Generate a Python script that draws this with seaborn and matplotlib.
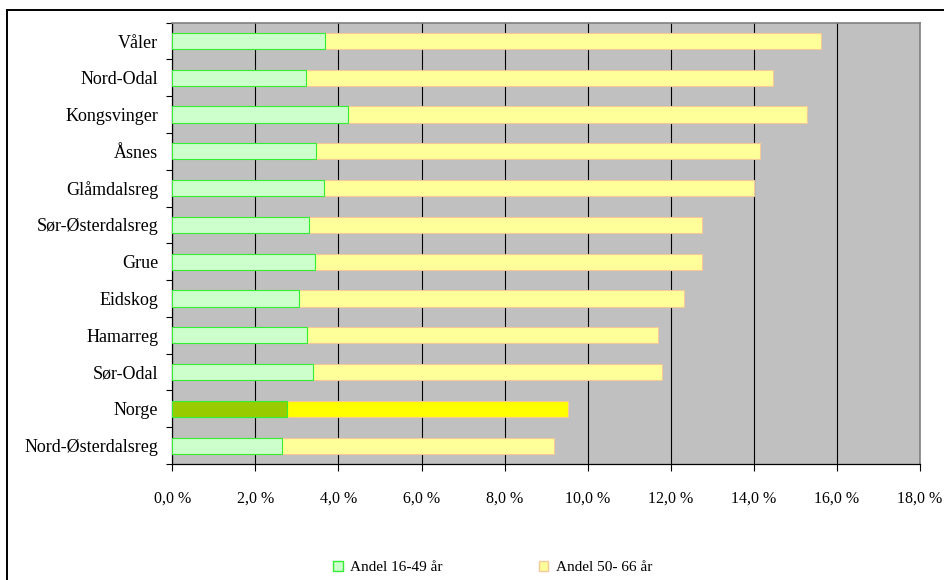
import seaborn as sns
import pandas as pd
import matplotlib.pyplot as plt
from matplotlib.patches import Patch, Rectangle
from matplotlib.ticker import FixedLocator, FuncFormatter

kommuner = ['Våler', 'Nord-Odal', 'Kongsvinger', 'Åsnes', 'Glåmdalsreg',
            'Sør-Østerdalsreg', 'Grue', 'Eidskog', 'Hamarreg', 'Sør-Odal',
            'Norge', 'Nord-Østerdalsreg']
andel_16_49 = [3.68, 3.21, 4.24, 3.47, 3.65, 3.29, 3.44, 3.06, 3.24, 3.38, 2.76, 2.64]
andel_50_66 = [11.93, 11.25, 11.04, 10.68, 10.35, 9.47, 9.32, 9.27, 8.45, 8.40, 6.77, 6.55]
x_ticks = [0, 2, 4, 6, 8, 10, 12, 14, 16, 18]


def make_plot(df):
    plt.rcParams['font.family'] = ['Liberation Serif', 'DejaVu Serif']
    fig = plt.figure(figsize=(9.44, 5.80), dpi=100)
    ax = fig.add_axes([0.1825, 0.2, 0.7921, 0.761])
    ax.set_facecolor('#C0C0C0')

    yellow = ['#FFFF00' if k == 'Norge' else '#FFFF99' for k in df['Kommune']]
    green = ['#99CC00' if k == 'Norge' else '#CCFFCC' for k in df['Kommune']]

    sns.barplot(data=df, y='Kommune', x='Total', hue='Kommune', palette=yellow,
                legend=False, orient='h', width=0.44, edgecolor='#F5C89A',
                linewidth=0.8, saturation=1, ax=ax, zorder=2)
    sns.barplot(data=df, y='Kommune', x='Andel 16-49', hue='Kommune', palette=green,
                legend=False, orient='h', width=0.44, edgecolor='#33EE33',
                linewidth=0.8, saturation=1, ax=ax, zorder=3)

    ax.set_xlim(0, 18)
    ax.set_ylim(len(df) - 0.5, -0.5)
    ax.xaxis.set_major_locator(FixedLocator(x_ticks))
    ax.xaxis.set_major_formatter(FuncFormatter(lambda v, p: f'{v:.1f} %'.replace('.', ',')))
    ax.set_yticks([i + 0.5 for i in range(-1, len(df))], minor=True)
    ax.tick_params(axis='y', which='major', length=0, labelsize=13, pad=10)
    ax.tick_params(axis='y', which='minor', length=4, direction='out', width=0.8)
    ax.tick_params(axis='x', which='major', length=5, direction='out', width=0.8,
                   labelsize=11.5, pad=14)
    ax.grid(axis='x', color='black', linewidth=0.8, zorder=1)
    ax.set_axisbelow(True)
    ax.set_xlabel('')
    ax.set_ylabel('')
    for s in ['left', 'bottom']:
        ax.spines[s].set_color('black')
        ax.spines[s].set_linewidth(0.9)
    for s in ['top', 'right']:
        ax.spines[s].set_color('#808080')
        ax.spines[s].set_linewidth(1.2)

    handles = [Patch(facecolor='#CCFFCC', edgecolor='#33EE33', label='Andel 16-49 år'),
               Patch(facecolor='#FFFF99', edgecolor='#F5C89A', label='Andel 50- 66 år')]
    fig.legend(handles=handles, loc='center', bbox_to_anchor=(0.522, 0.021), ncol=2,
               frameon=False, fontsize=11, handlelength=0.6, handleheight=0.6,
               handletextpad=0.5, columnspacing=6.3)

    fig.patches.append(Rectangle((7 / 944, -0.1), 1.2, 0.1 + 570 / 580,
                                 transform=fig.transFigure, fill=False,
                                 edgecolor='black', linewidth=1.4))
    fig.savefig('out.png', dpi=100)


def main():
    df = pd.DataFrame({'Kommune': kommuner, 'Andel 16-49': andel_16_49,
                       'Andel 50-66': andel_50_66})
    df['Total'] = df['Andel 16-49'] + df['Andel 50-66']
    make_plot(df)


if __name__ == "__main__":
    main()
